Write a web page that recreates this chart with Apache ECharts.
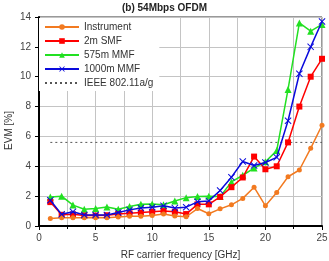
<!DOCTYPE html>
<html>
<head>
<meta charset="utf-8">
<script src="https://cdn.jsdelivr.net/npm/echarts@6/dist/echarts.min.js"></script>
<style>
html,body{margin:0;padding:0;background:#fff;}
#chart{width:329px;height:261px;}
</style>
</head>
<body>
<div id="chart"></div>
<script>
// RF carrier frequency [GHz]
var freq = [1,2,3,4,5,6,7,8,9,10,11,12,13,14,15,16,17,18,19,20,21,22,23,24,25];
// EVM [%]
var instrument = [0.5,0.55,0.55,0.55,0.55,0.55,0.6,0.65,0.65,0.7,0.8,0.67,0.62,1.17,0.82,1.15,1.42,1.85,2.6,1.35,2.25,3.3,3.75,5.2,6.75];
var smf2m      = [1.6,0.75,0.78,0.7,0.7,0.72,0.8,0.85,0.9,0.95,1.0,0.95,0.8,1.45,1.45,1.95,2.6,3.25,4.65,3.8,4.0,5.6,8.0,10.0,11.2];
var mmf575     = [1.95,2.0,1.4,1.12,1.18,1.28,1.12,1.3,1.45,1.48,1.42,1.68,1.9,1.98,2.0,1.97,2.95,3.4,3.88,4.3,5.05,9.15,13.6,13.05,13.5];
var mmf1000    = [1.72,0.78,0.95,0.74,0.74,0.74,0.9,1.08,1.2,1.26,1.35,1.2,1.26,1.62,1.68,2.38,3.27,4.32,4.05,4.25,4.6,7.05,10.2,12.0,13.7];
var ieeeX = [1,25];
var ieeeLimit = [5.6,5.6];

function pairs(xs, ys){
    var out = [];
    for (var i = 0; i < xs.length; i++) out.push([xs[i], ys[i]]);
    return out;
}

var crossPath = 'path://M0,1L1,0L5,4L9,0L10,1L6,5L10,9L9,10L5,6L1,10L0,9L4,5Z';
var font = 'Liberation Sans, Arial, sans-serif';

var chart = echarts.init(document.getElementById('chart'));
var option = {
    animation: false,
    textStyle: {fontFamily: font},
    title: {
        text: '(b) 54Mbps OFDM',
        left: 'center',
        top: -2,
        textStyle: {fontSize: 10, fontWeight: 'bold', color: '#222', fontFamily: font}
    },
    legend: {
        orient: 'vertical',
        left: 39,
        top: 18,
        padding: [4, 6, 3, 5],
        backgroundColor: '#fff',
        itemWidth: 34,
        itemHeight: 7,
        itemGap: 4,
        textStyle: {fontSize: 10, color: '#333', fontFamily: font},
        data: [
            'Instrument', '2m SMF', '575m MMF', '1000m MMF',
            {name: 'IEEE 802.11a/g', itemStyle: {opacity: 0}}
        ]
    },
    grid: {
        left: 39, right: 7, top: 17, bottom: 35,
        outerBoundsMode: 'none',
        containLabel: false,
        show: true, borderColor: '#333', borderWidth: 1
    },
    xAxis: {
        type: 'value',
        min: 0, max: 25, interval: 5,
        name: 'RF carrier frequency [GHz]',
        nameLocation: 'middle',
        nameGap: 24,
        nameMoveOverlap: false,
        nameTextStyle: {fontSize: 10, color: '#333'},
        axisLine: {lineStyle: {color: '#000', width: 2}},
        axisTick: {show: true, length: 4, lineStyle: {color: '#000'}},
        minorTick: {show: true, splitNumber: 2, length: 3, lineStyle: {color: '#000'}},
        axisLabel: {fontSize: 10, color: '#444', margin: 7},
        splitLine: {show: true, lineStyle: {color: '#c4c4c4', width: 1}},
        minorSplitLine: {show: true, lineStyle: {color: '#c4c4c4', width: 1}}
    },
    yAxis: {
        type: 'value',
        min: 0, max: 14, interval: 2,
        name: 'EVM [%]',
        nameLocation: 'middle',
        nameGap: 25,
        nameMoveOverlap: false,
        nameTextStyle: {fontSize: 10, color: '#333', padding: [0, 18, 0, 0]},
        axisLine: {show: true, lineStyle: {color: '#000', width: 2}},
        axisTick: {show: true, length: 4, lineStyle: {color: '#000'}},
        axisLabel: {fontSize: 10, color: '#444', margin: 8},
        splitLine: {show: true, lineStyle: {color: '#c4c4c4', width: 1}}
    },
    series: [
        {
            name: 'Instrument', type: 'line',
            data: pairs(freq, instrument),
            symbol: 'circle', symbolSize: 5,
            itemStyle: {color: '#f27a20'},
            lineStyle: {color: '#f27a20', width: 1.5},
            z: 5
        },
        {
            name: '2m SMF', type: 'line',
            data: pairs(freq, smf2m),
            symbol: 'rect', symbolSize: 6,
            itemStyle: {color: '#ff0000'},
            lineStyle: {color: '#ff0000', width: 1.5},
            z: 4
        },
        {
            name: '575m MMF', type: 'line',
            data: pairs(freq, mmf575),
            symbol: 'triangle', symbolSize: 7,
            itemStyle: {color: '#22e022'},
            lineStyle: {color: '#22e022', width: 1.5},
            z: 3
        },
        {
            name: '1000m MMF', type: 'line',
            data: pairs(freq, mmf1000),
            symbol: crossPath, symbolSize: 7,
            itemStyle: {color: '#0a0adc'},
            lineStyle: {color: '#0a0adc', width: 1.5},
            z: 6
        },
        {
            name: 'IEEE 802.11a/g', type: 'line',
            data: pairs(ieeeX, ieeeLimit),
            symbol: 'none',
            itemStyle: {color: '#555'},
            lineStyle: {color: '#555', width: 1, type: [2, 3]},
            z: 2
        }
    ]
};
chart.setOption(option);
</script>
</body>
</html>
